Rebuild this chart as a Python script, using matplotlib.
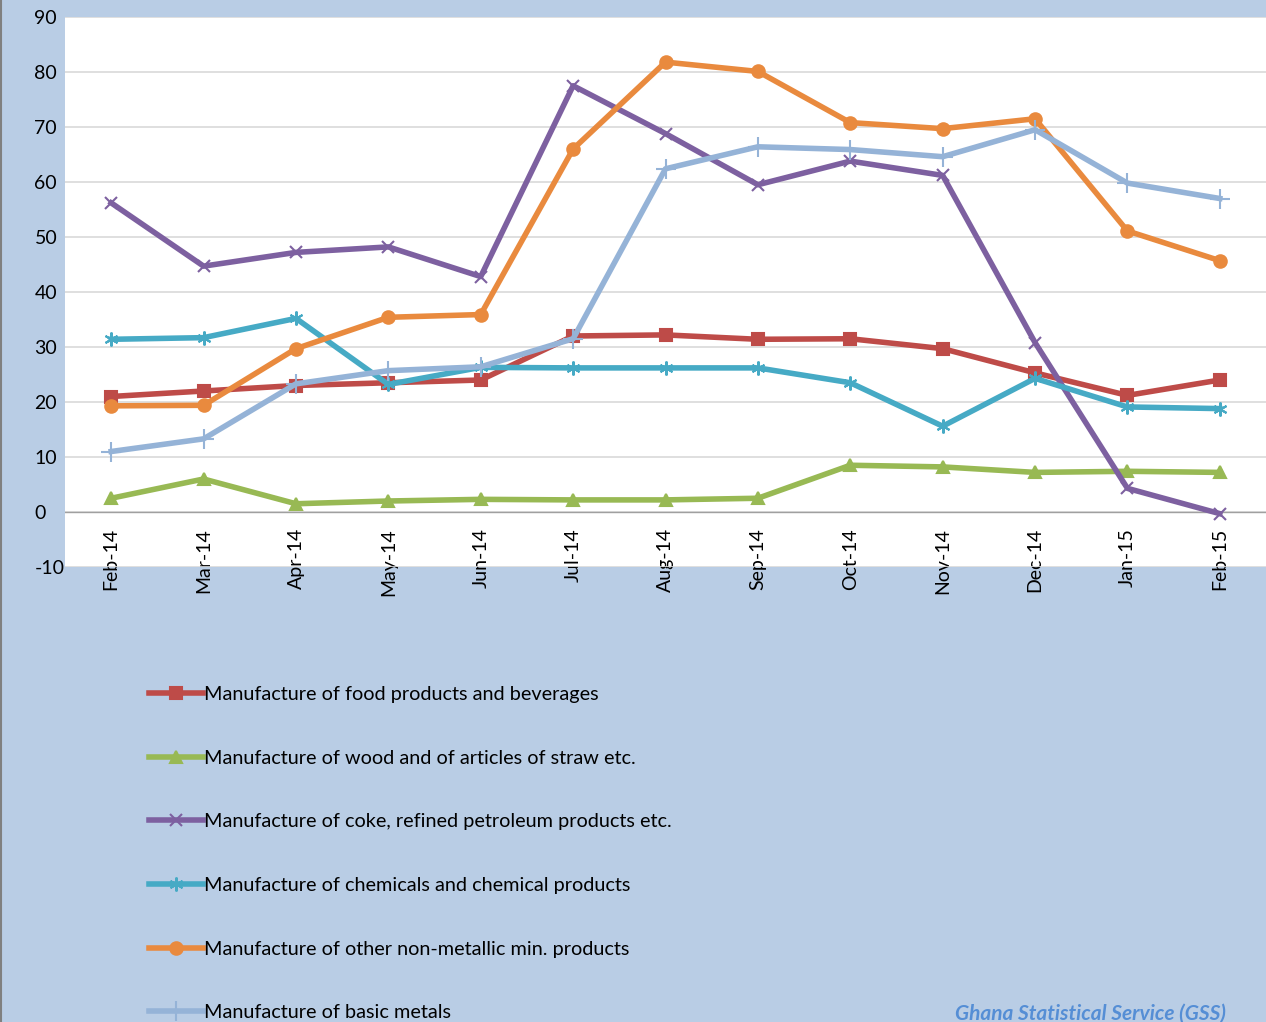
import matplotlib.pyplot as plt
from matplotlib.lines import Line2D

plt.rcParams['font.family'] = ['Lato', 'DejaVu Sans']
plt.rcParams['axes.unicode_minus'] = False

months = ['Feb-14', 'Mar-14', 'Apr-14', 'May-14', 'Jun-14', 'Jul-14', 'Aug-14',
          'Sep-14', 'Oct-14', 'Nov-14', 'Dec-14', 'Jan-15', 'Feb-15']

food = [21, 22, 23, 23.5, 24, 32, 32.2, 31.4, 31.5, 29.7, 25.3, 21.2, 24]
wood = [2.5, 6, 1.5, 2, 2.3, 2.2, 2.2, 2.5, 8.5, 8.2, 7.2, 7.4, 7.2]
coke = [56.2, 44.7, 47.2, 48.2, 42.8, 77.5, 68.8, 59.5, 63.8, 61.2, 30.8, 4.3, -0.3]
chem = [31.4, 31.7, 35.2, 23.2, 26.3, 26.2, 26.2, 26.2, 23.5, 15.6, 24.3, 19.1, 18.8]
nonmet = [19.3, 19.4, 29.7, 35.4, 35.9, 66, 81.8, 80.1, 70.8, 69.7, 71.5, 51.1, 45.7]
basic = [11, 13.3, 23.3, 25.7, 26.4, 31.5, 62.4, 66.4, 65.9, 64.6, 69.5, 59.8, 57]

series = [
    ('Manufacture of food products and beverages', food, '#be4b48', 's', 8),
    ('Manufacture of wood and of articles of straw etc.', wood, '#98b954', '^', 9),
    ('Manufacture of coke, refined petroleum products etc.', coke, '#7d60a0', 'x', 9),
    ('Manufacture of chemicals and chemical products', chem, '#46aac5', (6, 2, 0), 10),
    ('Manufacture of other non-metallic min. products', nonmet, '#e98a3e', 'o', 9),
    ('Manufacture of basic metals', basic, '#95b3d7', '+', 14),
]

bg = '#b9cde5'
fig = plt.figure(figsize=(12.66, 10.22), dpi=100, facecolor=bg)
ax = fig.add_axes([65/1266, 1-567/1022, 1-65/1266, (567-17)/1022])
ax.set_facecolor('white')

x = list(range(len(months)))
for name, vals, col, mk, ms in series:
    ax.plot(x, vals, color=col, lw=4, marker=mk, ms=ms, mew=1.5, mec=col,
            label=name, solid_joinstyle='round', clip_on=False)

ax.set_xlim(-0.5, 12.5)
ax.set_ylim(-10, 90)
ax.set_yticks(range(-10, 91, 10))
ax.set_xticks(x)
ax.set_xticklabels(months, rotation=90, fontsize=14)
ax.tick_params(axis='y', labelsize=14, length=0, pad=22)
ax.tick_params(axis='x', length=0, pad=-28)
for lab in ax.get_yticklabels():
    lab.set_horizontalalignment('left')
for lab in ax.get_xticklabels():
    lab.set_verticalalignment('top')
ax.grid(axis='y', color='#d9d9d9', lw=1.2)
ax.set_axisbelow(True)
for s in ax.spines.values():
    s.set_visible(False)
ax.axhline(0, color='#a0a0a0', lw=1, zorder=1)

handles, labels = ax.get_legend_handles_labels()
fig.legend(handles, labels, loc='upper left', bbox_to_anchor=(131/1266, 1-668/1022),
           frameon=False, fontsize=14.3, handlelength=2.7, labelspacing=2.35,
           handletextpad=0.1)

fig.text(955/1266, 1-1020/1022, 'Ghana Statistical Service (GSS)', color='#558ed5',
         fontsize=15, fontstyle='italic', fontweight='bold', va='baseline')
fig.add_artist(Line2D([1/1266, 1/1266], [0, 1], color='#808080', lw=1.5))

fig.savefig('out.png', dpi=100, facecolor=bg)
